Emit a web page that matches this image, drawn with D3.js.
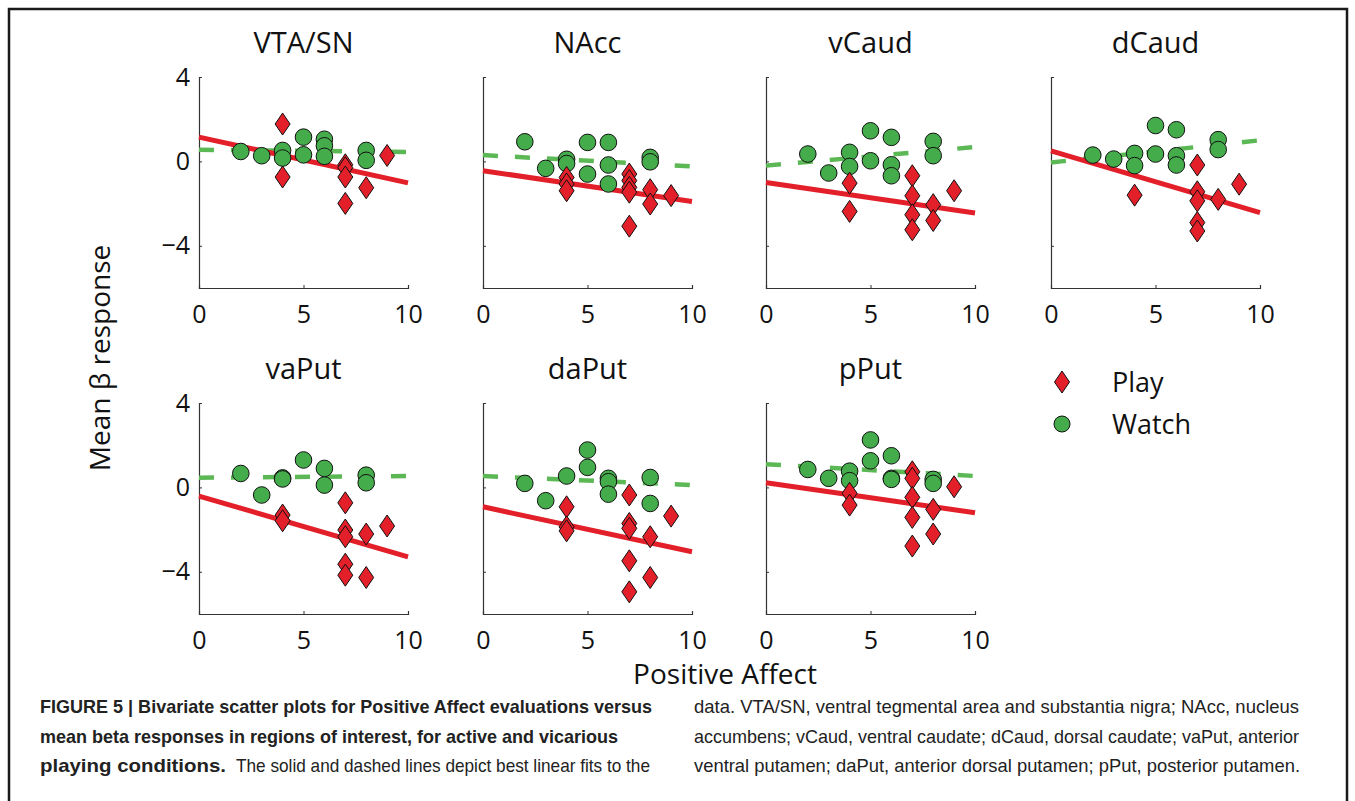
<!DOCTYPE html>
<meta charset="utf-8">
<style>
  body { margin: 0; background: #fff; }
  .tick-label { font-family: "Open Sans", sans-serif; fill: #111; }
  .caption { font-family: "Liberation Sans Narrow", "Arial Narrow", "Liberation Sans", sans-serif; fill: #222; }
</style>
<body>
<script src="https://d3js.org/d3.v7.min.js"></script>
<script>

// region names, one panel each
var regions = ["VTA/SN", "NAcc", "vCaud", "dCaud", "vaPut", "daPut", "pPut"];

// Watch condition points [positive affect, mean beta] per region
var watchPts = [
  [[2,0.47],[3,0.27],[4,0.52],[4,0.16],[5,1.15],[5,0.31],[6,1.05],[6,0.74],[6,0.24],[8,0.52],[8,0.05]],
  [[2,0.93],[3,-0.33],[4,0.1],[4,-0.1],[5,0.9],[5,-0.6],[6,0.9],[6,-0.17],[6,-1.07],[8,0.19],[8,-0.02]],
  [[2,0.35],[3,-0.55],[4,0.43],[4,-0.24],[5,1.45],[5,0.03],[6,1.14],[6,-0.16],[6,-0.68],[8,0.95],[8,0.27]],
  [[2,0.3],[3,0.11],[4,0.38],[4,-0.2],[5,1.7],[5,0.35],[6,1.5],[6,0.27],[6,-0.17],[8,1.03],[8,0.56]],
  [[2,0.66],[3,-0.36],[4,0.45],[4,0.4],[5,1.3],[6,0.9],[6,0.11],[8,0.58],[8,0.22]],
  [[2,0.19],[3,-0.63],[4,0.54],[5,1.77],[5,0.95],[6,0.43],[6,0.27],[6,-0.32],[8,0.47],[8,-0.76]],
  [[2,0.85],[3,0.43],[4,0.77],[4,0.32],[5,2.25],[5,1.26],[6,1.5],[6,0.43],[6,0.38],[8,0.38],[8,0.19]]
];

// Play condition points
var playPts = [
  [[4,1.77],[4,-0.74],[7,-0.16],[7,-0.3],[7,-0.74],[7,-1.99],[8,-1.25],[9,0.28]],
  [[4,-0.76],[4,-1.07],[4,-1.39],[7,-0.6],[7,-0.91],[7,-1.23],[7,-1.46],[7,-3.07],[8,-1.34],[8,-2.02],[9,-1.62]],
  [[4,-1.03],[4,-2.37],[7,-0.68],[7,-1.63],[7,-2.53],[7,-3.24],[8,-2.05],[8,-2.8],[9,-1.39]],
  [[4,-1.6],[7,-0.17],[7,-1.44],[7,-1.87],[7,-2.9],[7,-3.3],[8,-1.8],[9,-1.08]],
  [[4,-1.31],[4,-1.58],[7,-0.73],[7,-2.02],[7,-2.34],[7,-3.64],[7,-4.16],[8,-2.21],[8,-4.27],[9,-1.83]],
  [[4,-0.92],[4,-1.87],[4,-2.06],[7,-0.36],[7,-1.71],[7,-1.94],[7,-3.48],[7,-4.95],[8,-2.34],[8,-4.27],[9,-1.36]],
  [[4,-0.28],[4,-0.84],[7,0.74],[7,0.43],[7,-0.47],[7,-1.42],[7,-2.78],[8,-1.04],[8,-2.21],[9,0.03]]
];

// best linear fits, value at x=0 and at x=10
var playFit = [[1.15,-1.02],[-0.44,-1.9],[-1.0,-2.45],[0.5,-2.43],[-0.41,-3.29],[-0.92,-3.05],[0.22,-1.2]];
var watchFit = [[0.55,0.45],[0.3,-0.24],[-0.2,0.68],[-0.05,1.0],[0.46,0.54],[0.54,0.11],[1.1,0.54]];

var xTicks = [0, 5, 10];
var yTicks = [-4, 0, 4];
var yTickLabels = ["\u22124", "0", "4"];

var captionLeft = [
  "FIGURE 5 | Bivariate scatter plots for Positive Affect evaluations versus",
  "mean beta responses in regions of interest, for active and vicarious"
];
var captionRight = [
  "data. VTA/SN, ventral tegmental area and substantia nigra; NAcc, nucleus",
  "accumbens; vCaud, ventral caudate; dCaud, dorsal caudate; vaPut, anterior",
  "ventral putamen; daPut, anterior dorsal putamen; pPut, posterior putamen."
];

var red = "#e3202a", green = "#44ac4b", greenLine = "#5cb855";

var W = 1355, H = 801;
var colLeft = [199, 483, 766, 1051];
var rowTop = [77, 403];
var pw = 209, ph = 211;

var svg = d3.select("body").append("svg")
  .attr("width", W).attr("height", H);

// figure frame
svg.append("rect")
  .attr("x", 9).attr("y", 9).attr("width", 1338).attr("height", 830)
  .attr("fill", "none").attr("stroke", "#1a1a1a").attr("stroke-width", 2.5);

var x = d3.scaleLinear().domain([0, 10]).range([0, pw]);
var y = d3.scaleLinear().domain([-6, 4]).range([ph, 0]);

var diamond = "M0,-11L7.5,0L0,11L-7.5,0Z";

regions.forEach(function (name, i) {
  var col = i % 4, row = Math.floor(i / 4);
  var g = svg.append("g")
    .attr("transform", "translate(" + colLeft[col] + "," + rowTop[row] + ")");

  // title
  g.append("text")
    .attr("x", pw / 2).attr("y", -24)
    .attr("text-anchor", "middle")
    .attr("class", "tick-label")
    .style("font-size", "29px")
    .text(name);

  // axes
  var xa = g.append("g").attr("transform", "translate(0," + ph + ")")
    .call(d3.axisBottom(x).tickValues(xTicks).tickSize(-3).tickPadding(12));
  var ya = g.append("g")
    .call(d3.axisLeft(y).tickValues(yTicks).tickSize(-3).tickPadding(9)
      .tickFormat(function (d, k) { return yTickLabels[k]; }));
  [xa, ya].forEach(function (a) {
    a.select(".domain").attr("stroke", "#333").attr("stroke-width", 1.2);
    a.selectAll(".tick line").attr("stroke", "#333");
    a.selectAll("text").attr("class", "tick-label").style("font-size", "25px").attr("fill", "#111");
  });
  xa.selectAll("text").attr("dy", "0.9em");
  if (col !== 0) ya.selectAll("text").remove();

  // fit lines
  g.append("line")
    .attr("x1", x(0)).attr("y1", y(watchFit[i][0]))
    .attr("x2", x(10)).attr("y2", y(watchFit[i][1]))
    .attr("stroke", greenLine).attr("stroke-width", 4.5)
    .attr("stroke-dasharray", "15,17");
  g.append("line")
    .attr("x1", x(0)).attr("y1", y(playFit[i][0]))
    .attr("x2", x(10)).attr("y2", y(playFit[i][1]))
    .attr("stroke", red).attr("stroke-width", 5);

  // watch circles
  g.selectAll("circle.w")
    .data(watchPts[i]).enter().append("circle")
    .attr("class", "w")
    .attr("cx", function (d) { return x(d[0]); })
    .attr("cy", function (d) { return y(d[1]); })
    .attr("r", 8.3)
    .attr("fill", green).attr("stroke", "#111").attr("stroke-width", 1);

  // play diamonds
  g.selectAll("path.p")
    .data(playPts[i]).enter().append("path")
    .attr("class", "p")
    .attr("d", diamond)
    .attr("transform", function (d) { return "translate(" + x(d[0]) + "," + y(d[1]) + ")"; })
    .attr("fill", red).attr("stroke", "#111").attr("stroke-width", 1);
});

// axis titles
svg.append("text")
  .attr("class", "tick-label")
  .attr("x", 725).attr("y", 684)
  .attr("text-anchor", "middle")
  .style("font-size", "28px")
  .text("Positive Affect");
svg.append("text")
  .attr("class", "tick-label")
  .attr("transform", "translate(110,358) rotate(-90)")
  .attr("text-anchor", "middle")
  .style("font-size", "28px")
  .text("Mean \u03b2 response");

// legend
var legend = svg.append("g").attr("transform", "translate(1062,0)");
legend.append("path").attr("d", diamond)
  .attr("transform", "translate(0,382)")
  .attr("fill", red).attr("stroke", "#111").attr("stroke-width", 1);
legend.append("circle").attr("cx", 0).attr("cy", 424).attr("r", 8)
  .attr("fill", green).attr("stroke", "#111").attr("stroke-width", 1);
legend.append("text").attr("class", "tick-label").attr("x", 50).attr("y", 392)
  .style("font-size", "27px").text("Play");
legend.append("text").attr("class", "tick-label").attr("x", 50).attr("y", 434)
  .style("font-size", "27px").text("Watch");

// caption
var cap = svg.append("g").attr("class", "caption").style("font-size", "19px");
var leftEnds = [612, 578];
captionLeft.forEach(function (t, k) {
  cap.append("text").attr("x", 40).attr("y", 713 + k * 29.5)
    .attr("font-weight", "bold")
    .attr("textLength", leftEnds[k]).attr("lengthAdjust", "spacingAndGlyphs")
    .text(t);
});
cap.append("text").attr("x", 40).attr("y", 772)
  .attr("font-weight", "bold")
  .attr("textLength", 186).attr("lengthAdjust", "spacingAndGlyphs")
  .text("playing conditions.");
cap.append("text").attr("x", 236).attr("y", 772)
  .attr("textLength", 414).attr("lengthAdjust", "spacingAndGlyphs")
  .text("The solid and dashed lines depict best linear fits to the");
var rightEnds = [605, 605, 606];
captionRight.forEach(function (t, k) {
  cap.append("text").attr("x", 694).attr("y", 713 + k * 29.5)
    .attr("textLength", rightEnds[k]).attr("lengthAdjust", "spacingAndGlyphs")
    .text(t);
});

</script>
</body>
